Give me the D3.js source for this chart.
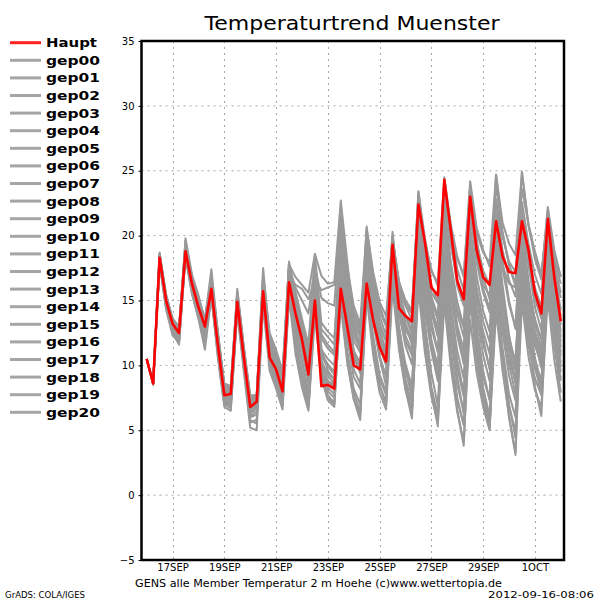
<!DOCTYPE html>
<html><head><meta charset="utf-8">
<script src="https://cdn.jsdelivr.net/npm/d3@7"></script>
<style>body{margin:0;background:#fff}</style>
</head><body>
<svg id="c" width="600" height="600"></svg>
<script>
// 6-hourly 2 m temperature, 2012-09-16 00Z .. 2012-10-02 00Z (65 steps)
const haupt=[10.5,8.6,18.3,15.0,13.2,12.5,18.8,16.3,14.5,13.0,15.9,11.6,7.7,7.8,14.9,10.7,6.8,7.2,15.7,10.6,9.7,8.0,16.4,14.0,12.0,9.3,15.0,8.4,8.5,8.2,15.9,13.0,10.0,9.7,16.3,13.5,11.4,10.3,19.3,14.4,13.8,13.4,22.4,19.5,16.0,15.4,24.3,20.4,16.5,15.1,23.0,18.9,16.8,16.2,21.1,18.4,17.2,17.1,21.1,18.9,15.6,14.0,21.3,16.8,13.4];
const gep00=[10.5,8.6,18.4,15.1,13.3,12.6,18.9,16.4,14.6,13.1,16.0,11.7,7.8,7.9,15.0,10.8,7.0,7.3,15.8,10.8,9.8,8.2,16.6,14.2,12.1,9.5,15.4,8.8,8.7,8.4,16.3,13.2,10.3,9.9,16.8,13.8,11.6,10.6,19.6,14.8,13.9,13.2,21.8,18.9,15.6,14.8,23.2,19.6,16.1,14.6,22.1,18.3,16.2,15.4,20.4,17.6,16.3,16.0,20.6,18.0,15.1,13.6,20.5,16.2,13.1];
const gep01=[10.5,8.5,18.6,15.4,13.6,12.9,19.5,16.8,15.0,13.4,16.8,12.3,8.4,8.3,15.6,11.3,7.5,7.6,16.9,11.6,10.4,8.7,17.6,13.4,11.2,8.8,16.4,11.3,9.6,8.9,18.5,14.2,11.2,9.6,18.4,13.6,10.7,9.2,17.8,12.9,10.1,8.4,18.6,14.2,11.2,9.5,17.9,13.1,9.8,7.6,16.5,12.2,9.1,7.4,17.2,13.0,10.4,8.9,18.3,14.1,11.5,10.2,19.1,14.6,11.8];
const gep02=[10.5,8.6,18.0,14.6,12.8,12.1,18.5,15.9,14.1,12.4,15.5,11.1,7.3,7.1,14.5,10.1,5.8,5.5,15.1,10.2,8.6,7.2,15.8,11.4,8.7,6.8,14.3,9.8,7.7,7.1,14.6,10.2,7.4,6.2,15.3,10.8,7.9,6.6,16.0,11.2,8.1,6.3,15.9,11.0,7.6,5.6,14.8,9.9,6.4,4.1,13.5,9.4,6.8,5.0,14.2,9.6,6.1,3.3,14.9,10.7,8.1,6.8,15.2,10.4,7.2];
const gep03=[10.5,8.6,18.5,15.2,13.4,12.4,19.1,16.6,14.9,13.3,16.3,12.0,8.1,8.0,15.3,11.1,7.3,7.5,16.3,11.4,10.2,8.6,17.2,14.8,12.7,10.4,16.9,11.2,10.5,10.0,19.4,15.6,12.6,11.5,20.0,16.4,13.8,12.3,20.0,15.8,14.6,14.0,23.4,19.8,17.2,16.4,24.5,20.9,18.4,16.8,23.8,20.2,18.7,17.9,24.7,21.0,19.4,18.5,24.9,20.8,18.6,16.9,22.2,18.9,16.8];
const gep04=[10.5,8.6,17.9,14.4,12.6,11.9,18.4,15.7,13.7,11.8,15.4,10.9,7.1,6.9,14.3,10.0,6.1,6.4,16.1,11.9,10.8,9.1,17.8,16.8,16.2,15.6,18.6,16.9,16.3,16.4,22.7,18.0,13.5,11.2,18.2,13.9,10.6,8.4,17.1,12.3,9.8,7.9,19.3,14.6,11.1,8.8,20.8,15.7,12.4,10.1,18.6,14.3,11.7,9.8,19.4,14.9,11.6,8.7,19.9,16.1,13.6,12.0,21.5,17.2,14.3];
const gep05=[10.5,8.5,18.2,14.9,13.1,12.3,18.7,16.0,14.3,12.8,15.6,11.3,7.6,7.5,14.6,10.4,6.4,6.8,16.5,12.3,11.0,9.4,17.0,16.2,15.9,15.1,16.6,15.8,16.0,16.2,20.4,17.3,13.9,12.4,19.8,15.6,12.8,11.1,19.6,15.6,13.9,12.7,22.5,18.2,14.6,12.3,21.0,16.4,13.1,11.2,20.6,16.9,14.2,12.6,22.3,18.1,15.0,12.8,21.8,18.4,16.0,14.5,21.0,17.6,15.2];
const gep06=[10.5,8.6,18.3,14.8,12.9,12.0,19.8,17.0,15.4,13.5,17.4,12.5,8.5,8.4,15.9,11.5,7.7,7.7,17.5,12.0,10.3,8.9,18.0,15.1,12.9,10.7,18.0,12.4,11.6,11.0,20.1,16.3,13.4,12.2,20.7,17.0,14.6,13.1,20.3,15.2,13.2,12.0,21.5,17.4,14.1,12.2,20.1,15.6,12.3,10.4,19.2,15.1,12.6,10.9,20.9,16.2,12.4,9.6,20.6,16.0,12.3,10.5,20.2,15.9,12.6];
const gep07=[10.5,8.6,18.1,14.7,12.7,11.8,18.3,15.5,13.6,11.2,15.3,10.6,6.8,6.5,14.1,9.6,5.2,5.0,14.6,9.6,8.2,6.6,15.2,10.9,8.3,6.5,13.8,9.1,7.3,6.8,15.0,10.4,7.4,5.8,15.9,11.7,9.0,7.7,17.3,12.4,8.6,6.5,16.7,11.8,8.0,5.3,16.5,11.2,7.3,5.4,15.8,10.9,7.2,5.1,16.4,11.3,7.8,6.0,17.1,12.2,8.4,6.1,16.8,11.6,7.9];
const gep08=[10.5,8.6,18.4,15.3,13.5,12.8,19.2,16.9,15.3,13.4,16.5,12.4,8.3,8.2,15.4,11.0,7.2,7.4,16.0,11.3,10.0,8.4,17.1,14.6,12.6,10.1,16.7,10.9,10.1,9.5,18.1,14.9,11.9,11.0,19.0,15.9,13.3,11.8,19.9,16.0,14.9,14.2,22.9,19.5,17.4,16.1,23.6,20.3,18.2,17.0,24.2,20.6,18.9,17.6,22.8,19.9,18.0,17.2,23.6,20.9,18.8,17.0,21.6,18.2,16.3];
const gep09=[10.5,8.6,18.0,14.5,12.5,11.6,18.6,16.1,14.4,12.7,15.8,11.5,7.6,7.6,14.8,10.6,6.6,6.9,15.5,10.5,9.2,7.5,16.2,13.1,10.3,7.7,15.5,10.1,8.8,8.1,17.0,12.6,9.7,8.6,17.6,13.4,10.6,9.1,18.8,14.0,11.5,10.1,20.1,15.5,11.8,9.4,19.0,14.3,10.4,7.9,17.8,13.2,9.6,7.3,18.5,13.8,10.1,7.8,18.0,13.9,10.6,8.6,18.4,13.7,10.2];
const gep10=[10.5,8.6,18.5,15.0,13.2,12.7,19.4,16.5,14.8,13.6,16.6,12.1,8.2,8.1,15.1,10.9,7.1,7.3,16.7,11.8,10.6,9.0,17.4,15.3,13.4,11.2,17.2,12.8,12.2,11.6,21.0,16.8,14.2,12.8,19.0,15.0,12.9,11.9,19.6,16.4,15.0,14.2,22.0,18.3,15.3,13.8,22.6,18.0,14.9,13.0,21.6,17.9,15.6,14.1,22.5,18.9,16.6,15.3,22.0,17.8,14.5,12.7,20.8,16.4,13.8];
const gep11=[10.5,8.6,18.3,15.1,13.3,12.5,18.6,16.2,14.4,12.9,16.2,11.8,7.9,7.7,15.0,10.7,6.9,7.0,16.0,11.0,9.6,7.9,16.0,12.6,10.4,8.0,15.8,10.4,9.2,8.6,17.3,13.6,10.7,9.4,18.1,14.4,11.9,10.8,19.8,15.3,13.1,11.6,21.2,17.0,13.4,11.1,18.2,13.1,9.1,6.3,17.0,12.1,8.3,6.1,16.0,11.1,7.0,4.4,15.9,11.6,9.0,7.7,17.6,12.9,9.5];
const gep12=[10.5,8.6,18.6,15.5,13.6,13.0,19.0,16.6,14.9,13.4,16.1,11.9,8.0,7.9,14.9,10.8,6.9,7.1,15.9,11.1,9.9,8.0,16.9,14.3,12.3,9.8,15.6,9.4,8.8,8.5,16.6,13.3,10.5,9.7,17.1,14.1,11.9,10.7,18.4,14.6,12.7,11.9,20.6,16.9,14.2,13.0,22.0,17.6,14.0,12.2,20.1,16.0,13.4,11.8,19.8,15.4,12.1,10.3,19.2,15.3,12.0,10.0,19.6,15.1,11.4];
const gep13=[10.5,8.6,17.8,14.3,12.3,11.8,18.9,15.8,13.9,12.2,15.4,10.8,7.0,6.7,14.4,10.2,6.0,6.2,15.3,10.3,8.9,7.1,15.6,11.9,9.1,7.2,14.8,9.5,8.0,7.5,15.5,11.1,8.2,7.0,15.6,11.3,8.4,7.2,17.0,12.2,8.9,7.1,17.5,12.4,8.3,6.2,16.0,10.8,6.6,3.8,15.0,10.3,7.1,5.6,15.7,10.6,6.9,4.9,16.3,12.4,9.8,8.4,16.0,11.9,9.0];
const gep14=[10.5,8.6,18.3,15.0,13.1,12.2,18.8,16.1,14.2,12.6,15.9,11.4,7.5,7.4,14.7,10.5,6.7,6.9,15.6,10.8,9.6,8.1,16.3,13.8,11.6,9.0,16.2,10.7,9.9,9.3,17.7,14.1,11.1,10.2,18.0,14.6,12.2,11.0,19.0,14.1,11.9,10.8,21.0,16.2,12.9,11.0,22.4,17.0,12.8,10.6,20.4,15.6,12.1,9.7,18.7,14.0,10.8,8.6,19.5,14.9,11.8,9.8,18.9,14.1,10.7];
const gep15=[10.5,8.6,18.1,14.8,13.0,12.5,19.0,16.4,14.7,13.1,16.4,12.2,8.2,8.0,15.2,11.2,7.4,7.6,17.0,12.5,11.2,9.6,17.9,15.7,13.6,11.6,18.5,13.3,12.6,12.1,19.0,15.8,12.9,11.7,20.2,16.8,14.2,13.0,19.7,16.5,14.6,13.5,23.1,18.6,14.6,12.4,21.7,17.3,14.3,12.9,22.5,18.6,15.9,14.4,21.4,17.5,14.7,13.0,20.9,16.6,13.3,11.3,19.9,15.5,12.2];
const gep16=[10.5,8.6,18.2,14.9,13.0,12.3,18.7,16.0,14.2,12.9,15.7,11.2,7.4,7.3,14.6,10.3,6.3,6.6,15.2,10.4,9.0,7.4,15.4,12.2,9.5,7.6,14.9,9.8,8.3,7.8,16.0,12.0,9.1,8.2,16.4,12.3,9.3,7.9,17.6,13.0,9.6,7.6,18.1,13.3,9.4,6.9,17.2,12.3,8.5,6.4,16.2,11.4,7.6,5.2,15.1,10.2,6.0,3.1,16.8,12.8,10.1,8.9,17.3,12.9,9.9];
const gep17=[10.5,8.6,18.4,15.2,13.4,12.6,19.3,16.7,15.0,13.5,16.9,12.6,8.6,8.4,15.7,11.4,7.6,7.7,16.4,11.6,10.4,8.8,16.8,14.5,12.4,10.0,17.4,12.1,11.3,10.8,19.1,15.2,12.3,11.3,19.4,15.2,12.3,10.4,19.5,15.8,13.7,12.4,22.1,17.9,14.9,13.5,23.3,19.3,16.6,15.1,23.0,19.5,17.3,16.2,23.9,20.2,17.7,16.1,22.6,19.4,17.0,15.5,21.3,17.8,15.6];
const gep18=[10.5,8.6,17.9,14.6,12.7,12.0,18.4,15.6,13.7,12.0,15.5,11.0,7.2,7.0,14.3,9.9,5.6,5.8,15.0,10.0,8.5,6.9,15.5,12.0,9.0,6.8,14.5,9.0,7.5,7.0,15.2,10.8,7.9,6.4,16.0,11.5,8.5,6.9,16.6,11.6,8.2,5.9,17.2,12.0,8.2,6.0,16.2,11.0,7.5,5.4,16.4,11.5,7.8,5.9,17.5,12.6,9.2,7.3,17.8,13.3,9.9,7.8,17.0,12.4,8.8];
const gep19=[10.5,8.6,18.7,15.3,13.4,12.8,19.6,16.8,15.1,13.6,16.7,12.4,8.4,8.3,15.5,11.2,7.3,7.4,16.8,12.0,10.7,9.2,17.5,16.0,15.0,14.0,17.7,15.2,14.8,14.6,21.6,17.6,14.6,13.2,20.5,17.2,14.9,13.8,19.8,16.4,15.0,14.2,23.4,19.0,16.2,14.8,24.4,20.6,17.4,15.8,23.9,19.7,16.8,15.1,24.7,20.3,17.8,16.3,24.9,20.9,18.2,16.6,22.0,18.5,16.9];
const gep20=[10.5,8.6,18.2,15.0,13.2,12.4,18.9,16.3,14.6,13.2,16.2,11.7,7.9,7.7,15.0,10.7,6.8,7.1,15.8,10.9,9.8,8.3,16.5,13.6,11.3,8.7,15.9,10.2,9.4,8.9,17.5,13.9,10.9,9.8,17.9,14.0,11.4,10.0,19.3,14.8,12.3,11.1,20.4,15.8,12.0,9.9,19.5,14.6,11.1,9.0,18.6,14.0,10.8,8.8,19.9,15.2,12.0,9.8,20.3,15.8,12.6,10.9,19.3,14.7,11.0];

const members=[gep00,gep01,gep02,gep03,gep04,gep05,gep06,gep07,gep08,gep09,gep10,gep11,gep12,gep13,gep14,gep15,gep16,gep17,gep18,gep19,gep20];
const legendLabels=["Haupt","gep00","gep01","gep02","gep03","gep04","gep05","gep06","gep07","gep08","gep09","gep10","gep11","gep12","gep13","gep14","gep15","gep16","gep17","gep18","gep19","gep20"];
const yTicks=[-5,0,5,10,15,20,25,30,35];
const xTickLabels=["17SEP","19SEP","21SEP","23SEP","25SEP","27SEP","29SEP","1OCT"];
const xTickDates=["2012-09-17","2012-09-19","2012-09-21","2012-09-23","2012-09-25","2012-09-27","2012-09-29","2012-10-01"];
const startTime=Date.UTC(2012,8,16,0);
const stepHours=6;

const FONT="'DejaVu Sans', sans-serif";
const svg=d3.select("#c");
svg.append("rect").attr("width",600).attr("height",600).attr("fill","#fff");

const L=141.5,R=564,T=41,B=560;
const x=d3.scaleUtc().domain([new Date(Date.UTC(2012,8,15,19,12)),new Date(Date.UTC(2012,9,2,3,0))]).range([L,R]);
const y=d3.scaleLinear().domain([-5,35]).range([B,T]);
const tAt=i=>new Date(startTime+i*stepHours*3600e3);
const tickDates=xTickDates.map(s=>new Date(s+"T00:00:00Z"));

// grid
const g=svg.append("g");
g.selectAll("line.hg").data(yTicks.filter(v=>v>-5&&v<35)).join("line")
 .attr("x1",L).attr("x2",R).attr("y1",d=>y(d)).attr("y2",d=>y(d))
 .attr("stroke","#a8a8a8").attr("stroke-width",1).attr("stroke-dasharray","2,4");
g.selectAll("line.vg").data(tickDates).join("line")
 .attr("x1",d=>Math.round(x(d))+0.5).attr("x2",d=>Math.round(x(d))+0.5).attr("y1",T).attr("y2",B)
 .attr("stroke","#a8a8a8").attr("stroke-width",1).attr("stroke-dasharray","2,4");

// lines
const line=d3.line().x((d,i)=>x(tAt(i))).y(d=>y(d));
svg.append("g").selectAll("path").data(members).join("path")
 .attr("d",line).attr("fill","none").attr("stroke","#999999").attr("stroke-width",2).attr("stroke-linejoin","round");
svg.append("path").datum(haupt).attr("d",line).attr("fill","none").attr("stroke","#ff0000").attr("stroke-width",2.6).attr("stroke-linejoin","round");

// frame
svg.append("rect").attr("x",L).attr("y",T).attr("width",R-L).attr("height",B-T)
 .attr("fill","none").attr("stroke","#000").attr("stroke-width",2.5);

// axes
const ya=svg.append("g").attr("transform",`translate(${L},0)`)
 .call(d3.axisLeft(y).tickValues(yTicks).tickSize(3).tickPadding(4).tickFormat(d3.format("d")));
ya.select(".domain").remove();
ya.selectAll("text").attr("font-family",FONT).attr("font-size",10).attr("fill","#000");
ya.selectAll("line").attr("stroke","#000");
const xa=svg.append("g").attr("transform",`translate(0,${B})`)
 .call(d3.axisBottom(x).tickValues(tickDates).tickSize(0).tickPadding(4).tickFormat((d,i)=>xTickLabels[i]));
xa.select(".domain").remove();
xa.selectAll("text").attr("font-family",FONT).attr("font-size",10).attr("fill","#000");

// title
svg.append("text").attr("x",352).attr("y",30).attr("text-anchor","middle")
 .attr("font-family",FONT).attr("font-size",19).attr("textLength",295).attr("lengthAdjust","spacingAndGlyphs")
 .text("Temperaturtrend Muenster");

// legend
const lg=svg.append("g");
legendLabels.forEach((lab,i)=>{
  const yy=42.7+i*17.6;
  lg.append("line").attr("x1",10).attr("x2",41).attr("y1",yy).attr("y2",yy)
    .attr("stroke",i===0?"#ff2020":"#a5a5a5").attr("stroke-width",3);
  lg.append("text").attr("x",46).attr("y",yy+4.5).attr("font-family",FONT).attr("font-weight","bold")
    .attr("font-size",12.5).attr("textLength",i===0?51:54).attr("lengthAdjust","spacingAndGlyphs").text(lab);
});

// footer
svg.append("text").attr("x",135).attr("y",587).attr("font-family",FONT).attr("font-size",10)
 .attr("textLength",367).attr("lengthAdjust","spacingAndGlyphs").text("GENS alle Member Temperatur 2 m Hoehe (c)www.wettertopia.de");
svg.append("text").attr("x",5).attr("y",598).attr("font-family",FONT).attr("font-size",8.5)
 .attr("textLength",80).attr("lengthAdjust","spacingAndGlyphs").text("GrADS: COLA/IGES");
svg.append("text").attr("x",594).attr("y",598).attr("text-anchor","end").attr("font-family",FONT).attr("font-size",9)
 .attr("textLength",106).attr("lengthAdjust","spacingAndGlyphs").text("2012-09-16-08:06");
</script>
</body></html>
